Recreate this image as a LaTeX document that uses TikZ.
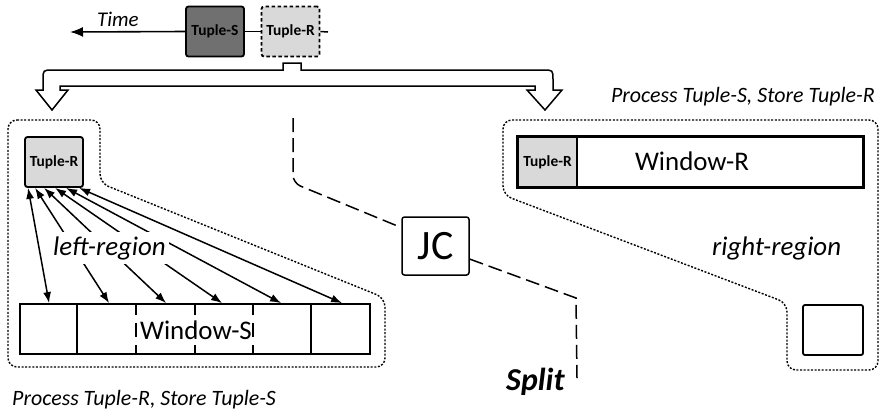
\documentclass[tikz,border=0pt]{standalone}
\usepackage{fontspec}
\setmainfont{Carlito}
\usetikzlibrary{arrows.meta,calc}

\definecolor{darktuple}{HTML}{707070}
\definecolor{lighttuple}{HTML}{D9D9D9}

\tikzset{
  tuplebox/.style={draw, line width=1.8bp, rounded corners=2.5bp,
    minimum width=58bp, minimum height=50bp, inner sep=0pt,
    font=\fontsize{15.5}{18}\selectfont\bfseries},
  cellbox/.style={draw, line width=1.8bp, inner sep=0pt},
  regionline/.style={line width=1.4bp, dash pattern=on 2bp off 1.6bp, rounded corners=9bp},
  splitline/.style={line width=1.5bp, dash pattern=on 14bp off 6bp},
  fatarrow/.style={draw, fill=white, line width=1.5bp, line join=miter},
  pairarrow/.style={line width=1.5bp, {Latex[length=11bp,width=8bp]}-{Latex[length=11bp,width=8bp]}},
  caption/.style={inner sep=0pt, font=\fontsize{22}{26}\selectfont\itshape},
  regionlabel/.style={inner sep=0pt, font=\fontsize{27}{32}\selectfont\itshape},
  winlabel/.style={inner sep=0pt, font=\fontsize{27}{32}\selectfont},
}

\begin{document}
\begin{tikzpicture}[x=1bp, y=-1bp]
\useasboundingbox (0,0) rectangle (880,414);

% --- incoming stream on the time axis ---
\node[tuplebox, fill=darktuple] (tS) at (215,31.5) {Tuple-S};
\node[tuplebox, fill=lighttuple, dash pattern=on 3.5bp off 2.5bp] (tR0) at (290.5,31.5) {Tuple-R};
\coordinate (timeEnd) at (70,32);
\coordinate (tailEnd) at (328,32);
\draw[line width=1.6bp, -{Latex[length=13bp,width=10bp]}] (tS.west) -- (timeEnd);
\draw[line width=1.5bp] (tS.east) -- (tR0.west);
\draw[line width=1.5bp] (tR0.east) -- (tailEnd);
\node[caption, anchor=base west, font=\fontsize{21}{24}\selectfont\itshape] (timeLbl) at (97,26) {Time};

% --- bent double arrow distributing tuples to both regions ---
\path[fatarrow]
  (52,110) -- (36,90) -- (43,90) -- (43,80) .. controls (43,70) .. (53,70)
  -- (283,70) -- (283,63) -- (301,63) -- (301,70)
  -- (543,70) .. controls (553,70) .. (553,80) -- (553,90) -- (562,90)
  -- (545,110) -- (527,90) -- (535,90) -- (535,86) -- (60,86) -- (60,90) -- (68,90) -- cycle;

% --- left region ---
\draw[regionline] (8,120) -- (100,120) -- (100,183) -- (385,298) -- (385,367) -- (8,367) -- cycle;
\node[tuplebox, fill=lighttuple] (tR) at (54,162) {Tuple-R};

\node[cellbox, minimum width=350bp, minimum height=50bp] (winS) at (195,329) {};
\foreach \dx in {58,292}
  \draw[line width=1.5bp] ($(winS.north west)+(\dx,0)$) -- ($(winS.south west)+(\dx,0)$);
\foreach \dx in {117,176,234}
  \draw[line width=1.5bp, dash pattern=on 12bp off 8bp on 14bp off 8bp]
    ($(winS.north west)+(\dx,0)$) -- ($(winS.south west)+(\dx,0)$);
\node[winlabel, anchor=base] (winSLbl) at (196,339) {Window-S};

\foreach \sx/\ex in {4/30, 11/90, 20/147, 31/203, 42/262, 55/323}
  \draw[pairarrow] ($(tR.south west)+(\sx,0)$) -- ($(winS.north west)+(\ex,0)$);

\node[regionlabel, anchor=base west, fill=white, inner xsep=3bp, inner ysep=4bp] (leftLbl) at (50,255) {left-region};
\node[caption, anchor=base west] (leftCap) at (12,405) {Process Tuple-R, Store Tuple-S};

% --- right region ---
\draw[regionline] (503,120) -- (878,120) -- (878,370) -- (787,370) -- (787,303) -- (503,195) -- cycle;
\node[cellbox, minimum width=345bp, minimum height=50bp] (winR) at (690.5,162) {};
\node[tuplebox, rounded corners=0pt, fill=lighttuple, minimum width=59bp] (tRR) at (547.5,162) {Tuple-R};
\draw[line width=1.8bp] (winR.north west) rectangle (winR.south east);
\node[winlabel, anchor=base] (winRLbl) at (692,170) {Window-R};
\node[cellbox, rounded corners=2bp, minimum width=60bp, minimum height=50bp] (slot) at (833,330) {};
\node[regionlabel, anchor=base west] (rightLbl) at (712,255) {right-region};
\node[caption, anchor=base east] (rightCap) at (875,102) {Process Tuple-S, Store Tuple-R};

% --- join core and split boundary ---
\node[draw, line width=1.5bp, rounded corners=2.5bp, minimum width=67bp, minimum height=58bp,
      inner sep=0pt, font=\fontsize{42}{46}\selectfont] (JC) at (435.5,246) {JC};
\coordinate (splitTop) at (293,118);
\coordinate (splitBot) at (577,378);
\draw[splitline, rounded corners=8bp] (splitTop) -- (293,183) -- ($(JC.north west)!0.19!(JC.south west)$);
\draw[splitline] ($(JC.north east)!0.72!(JC.south east)$) -- (576,298) -- (splitBot);
\node[inner sep=0pt, anchor=base west, font=\fontsize{32}{36}\selectfont\bfseries\itshape] (splitLbl) at (506,390) {Split};
\end{tikzpicture}
\end{document}
